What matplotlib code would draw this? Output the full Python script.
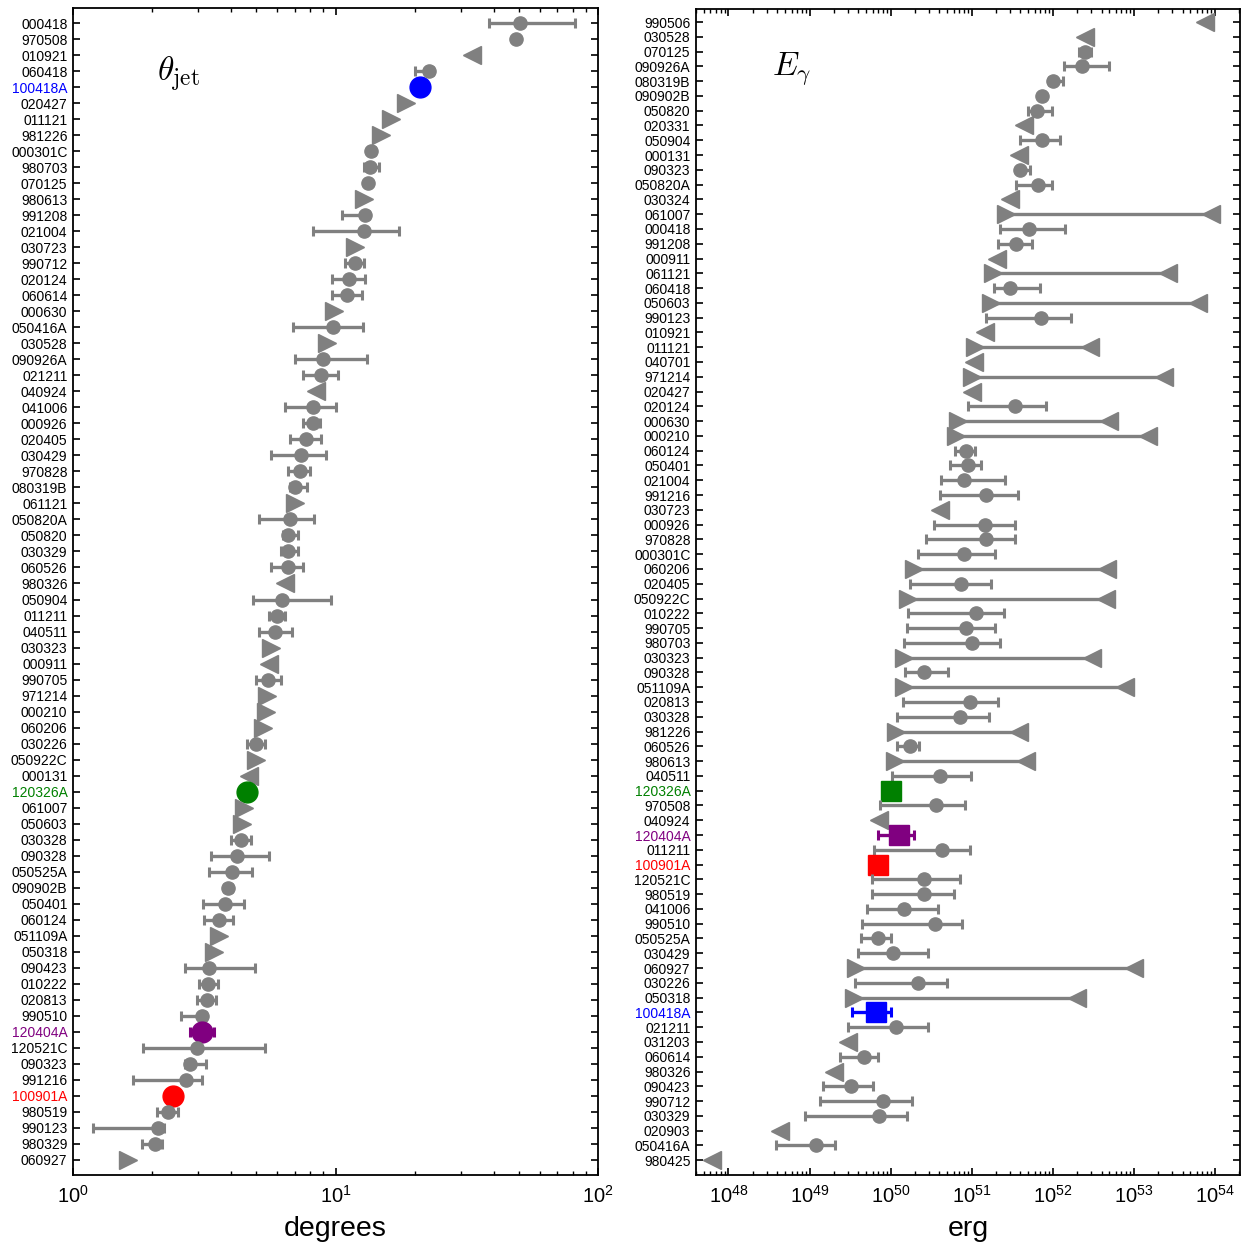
import numpy as np
import matplotlib
matplotlib.use("Agg")
import matplotlib.pyplot as plt
from matplotlib.ticker import LogLocator, NullFormatter

plt.rcParams['font.family'] = ['Liberation Sans', 'DejaVu Sans']
plt.rcParams['mathtext.fontset'] = 'custom'
plt.rcParams['mathtext.rm'] = 'Liberation Sans'
plt.rcParams['mathtext.it'] = 'Liberation Sans:italic'
plt.rcParams['mathtext.bf'] = 'Liberation Sans:bold'

GRAY = '#808080'

# ---- left panel: jet opening angle (degrees) ----
theta_labels = ['000418', '970508', '010921', '060418', '100418A', '020427', '011121', '981226',
                '000301C', '980703', '070125', '980613', '991208', '021004', '030723', '990712',
                '020124', '060614', '000630', '050416A', '030528', '090926A', '021211', '040924',
                '041006', '000926', '020405', '030429', '970828', '080319B', '061121', '050820A',
                '050820', '030329', '060526', '980326', '050904', '011211', '040511', '030323',
                '000911', '990705', '971214', '000210', '060206', '030226', '050922C', '000131',
                '120326A', '061007', '050603', '030328', '090328', '050525A', '090902B', '050401',
                '060124', '051109A', '050318', '090423', '010222', '020813', '990510', '120404A',
                '120521C', '090323', '991216', '100901A', '980519', '990123', '980329', '060927']
theta_kind = ['o', 'o', '<', 'o', 'o', '>', '>', '>',
              'o', 'o', 'o', '>', 'o', 'o', '>', 'o',
              'o', 'o', '>', 'o', '>', 'o', 'o', '<',
              'o', 'o', 'o', 'o', 'o', 'o', '>', 'o',
              'o', 'o', 'o', '<', 'o', 'o', 'o', '>',
              '<', 'o', '>', '>', '>', 'o', '>', '<',
              'o', '>', '>', 'o', 'o', 'o', 'o', 'o',
              'o', '>', '>', 'o', 'o', 'o', 'o', 'o',
              'o', 'o', 'o', 'o', 'o', 'o', 'o', '>']
theta_val = [50.4, 48.8, 33.2, 22.7, 21.0, 18.6, 16.3, 14.9,
             13.7, 13.5, 13.3, 12.8, 12.9, 12.8, 11.9, 11.9,
             11.3, 11.1, 9.9, 9.8, 9.3, 9.0, 8.8, 8.4,
             8.2, 8.2, 7.7, 7.4, 7.3, 7.0, 7.0, 6.7,
             6.6, 6.6, 6.6, 6.4, 6.25, 6.0, 5.9, 5.7,
             5.6, 5.55, 5.46, 5.42, 5.3, 4.99, 4.97, 4.7,
             4.6, 4.47, 4.4, 4.37, 4.2, 4.03, 3.9, 3.81,
             3.6, 3.6, 3.43, 3.31, 3.28, 3.24, 3.11, 3.09,
             2.98, 2.79, 2.70, 2.40, 2.30, 2.10, 2.06, 1.62]
theta_lo = [38.3, None, None, 20.0, None, None, None, None,
            13.3, 12.8, 13.0, None, 10.6, 8.2, None, 10.9,
            9.7, 9.7, None, 6.9, None, 7.0, 7.5, None,
            6.4, 7.5, 6.7, 5.7, 6.6, 6.7, None, 5.1,
            6.3, 6.2, 5.7, None, 4.85, 5.6, 5.1, None,
            None, 4.99, None, None, None, 4.6, None, None,
            None, None, None, 4.0, 3.36, 3.3, 3.75, 3.13,
            3.16, None, None, 2.67, 3.03, 2.96, 2.59, 2.79,
            1.85, 2.67, 1.69, None, 2.09, 1.19, 1.83, None]
theta_hi = [81.6, None, None, 23.5, None, None, None, None,
            14.1, 14.7, 13.6, None, 13.4, 17.5, None, 12.8,
            13.0, 12.6, None, 12.7, None, 13.2, 10.2, None,
            10.0, 8.7, 8.8, 9.2, 8.0, 7.8, None, 8.3,
            7.2, 7.2, 7.5, None, 9.65, 6.4, 6.8, None,
            None, 6.2, None, None, None, 5.4, None, None,
            None, None, None, 4.77, 5.57, 4.8, 4.05, 4.5,
            4.07, None, None, 4.95, 3.56, 3.52, 3.2, 3.44,
            5.37, 3.22, 3.11, None, 2.52, 2.22, 2.18, None]

# ---- right panel: beaming-corrected energy (log10 erg) ----
egam_labels = ['990506', '030528', '070125', '090926A', '080319B', '090902B', '050820', '020331',
               '050904', '000131', '090323', '050820A', '030324', '061007', '000418', '991208',
               '000911', '061121', '060418', '050603', '990123', '010921', '011121', '040701',
               '971214', '020427', '020124', '000630', '000210', '060124', '050401', '021004',
               '991216', '030723', '000926', '970828', '000301C', '060206', '020405', '050922C',
               '010222', '990705', '980703', '030323', '090328', '051109A', '020813', '030328',
               '981226', '060526', '980613', '040511', '120326A', '970508', '040924', '120404A',
               '011211', '100901A', '120521C', '980519', '041006', '990510', '050525A', '030429',
               '060927', '030226', '050318', '100418A', '021211', '031203', '060614', '980326',
               '090423', '990712', '030329', '020903', '050416A', '980425']
# 'o' measured, '<' upper limit, 'r' range between a lower and an upper limit
egam_kind = ['<', '<', 'o', 'o', 'o', 'o', 'o', '<',
             'o', '<', 'o', 'o', '<', 'r', 'o', 'o',
             '<', 'r', 'o', 'r', 'o', '<', 'r', '<',
             'r', '<', 'o', 'r', 'r', 'o', 'o', 'o',
             'o', '<', 'o', 'o', 'o', 'r', 'o', 'r',
             'o', 'o', 'o', 'r', 'o', 'r', 'o', 'o',
             'r', 'o', 'r', 'o', 'o', 'o', '<', 'o',
             'o', 'o', 'o', 'o', 'o', 'o', 'o', 'o',
             'r', 'o', 'r', 'o', 'o', '<', 'o', '<',
             'o', 'o', 'o', '<', 'o', '<']
egam_val = [53.88, 52.40, 52.40, 52.36, 52.00, 51.87, 51.81, 51.65,
            51.87, 51.59, 51.60, 51.82, 51.47, 51.42, 51.71, 51.55,
            51.31, 51.26, 51.47, 51.24, 51.86, 51.17, 51.04, 51.03,
            51.01, 51.01, 51.54, 50.83, 50.81, 50.93, 50.96, 50.91,
            51.18, 50.61, 51.16, 51.18, 50.90, 50.29, 50.87, 50.22,
            51.05, 50.93, 51.01, 50.17, 50.41, 50.16, 50.98, 50.86,
            50.07, 50.24, 50.05, 50.61, 50.00, 50.56, 49.86, 50.11,
            50.63, 49.84, 50.41, 50.41, 50.17, 50.55, 49.85, 50.03,
            49.57, 50.34, 49.55, 49.82, 50.07, 49.48, 49.67, 49.30,
            49.51, 49.91, 49.86, 48.63, 49.08, 47.80]
egam_lo = [None, None, 52.33, 52.14, 51.95, None, 51.69, None,
           51.60, None, 51.58, 51.55, None, None, 51.35, 51.33,
           None, None, 51.27, None, 51.18, None, None, None,
           None, None, 50.95, None, None, 50.80, 50.73, 50.62,
           50.61, None, 50.54, 50.44, 50.34, None, 50.24, None,
           50.22, 50.20, 50.17, None, 50.18, None, 50.15, 50.08,
           None, 50.08, None, 50.02, None, 49.87, None, 49.84,
           49.80, None, 49.77, 49.77, 49.71, 49.65, 49.63, 49.60,
           None, 49.56, None, 49.52, 49.47, None, 49.38, None,
           49.17, 49.13, 48.95, None, 48.59, None]
egam_hi = [None, None, 52.47, 52.70, 52.13, None, 51.99, None,
           52.09, None, 51.72, 51.99, None, 53.95, 52.15, 51.74,
           None, 53.42, 51.84, 53.79, 52.23, None, 52.46, None,
           53.37, None, 51.92, 52.69, 53.17, 51.04, 51.11, 51.41,
           51.57, None, 51.54, 51.54, 51.29, 52.67, 51.24, 52.66,
           51.40, 51.29, 51.35, 52.49, 50.71, 52.89, 51.32, 51.21,
           51.58, 50.35, 51.67, 50.99, None, 50.92, None, 50.29,
           50.98, None, 50.86, 50.78, 50.58, 50.88, 50.01, 50.46,
           53.00, 50.70, 52.30, 50.01, 50.46, None, 49.85, None,
           49.78, 50.26, 50.20, None, 49.31, None]

highlight = {'100418A': '#0000ff', '120326A': '#008000',
             '120404A': '#800080', '100901A': '#ff0000'}


def style_axes(ax, labels):
    n = len(labels)
    ax.set_yticks(range(n))
    ax.set_yticklabels(labels, fontsize=10)
    for tl, lab in zip(ax.get_yticklabels(), labels):
        tl.set_color(highlight.get(lab, 'black'))
    ax.tick_params(which='both', direction='in', top=True, right=True)
    ax.tick_params(axis='y', which='major', length=5, width=1.2, pad=4)
    ax.tick_params(axis='x', which='major', length=5, width=1.2, pad=7, labelsize=14.5)
    ax.tick_params(axis='x', which='minor', length=3, width=1.0)
    ax.tick_params(axis='y', which='minor', left=False, right=False)
    ax.xaxis.set_minor_locator(LogLocator(base=10, subs=np.arange(2, 10), numticks=100))
    ax.xaxis.set_minor_formatter(NullFormatter())
    for sp in ax.spines.values():
        sp.set_linewidth(1.3)


def errbar(ax, x, y, lo, hi, color, ms, marker='o'):
    if lo is None:
        ax.plot([x], [y], marker=marker, color=color, ms=ms, ls='none', zorder=3)
    else:
        ax.errorbar([x], [y], xerr=[[x - lo], [hi - x]], fmt=marker, color=color, ms=ms,
                    ecolor=color, elinewidth=2.4, capsize=3.3, capthick=2.2, zorder=3)


fig = plt.figure(figsize=(12.47, 12.43), dpi=100)
ax1 = fig.add_axes([73 / 1247, 1 - 1175 / 1243, (598 - 73) / 1247, (1175 - 8) / 1243])
ax2 = fig.add_axes([696 / 1247, 1 - 1175 / 1243, (1240 - 696) / 1247, (1175 - 9) / 1243])

# left panel
for i, lab in enumerate(theta_labels):
    k = theta_kind[i]
    if lab in highlight:
        errbar(ax1, theta_val[i], i, theta_lo[i], theta_hi[i], highlight[lab], 15)
    elif k == 'o':
        errbar(ax1, theta_val[i], i, theta_lo[i], theta_hi[i], GRAY, 9.5)
    else:
        ax1.plot([theta_val[i]], [i], marker=k, color=GRAY, ms=13.5, ls='none', zorder=3)

ax1.set_xscale('log')
ax1.set_xlim(1, 100)
ax1.set_ylim(len(theta_labels) - 1 + 0.94, -0.94)
style_axes(ax1, theta_labels)
ax1.set_xlabel('degrees', fontsize=20.5, labelpad=7)
ax1.text(0.16, 0.943, r'$\theta_{\rm jet}$', transform=ax1.transAxes, fontsize=24,
         math_fontfamily='cm', va='center', ha='left')

# right panel
for i, lab in enumerate(egam_labels):
    k = egam_kind[i]
    v = 10 ** egam_val[i]
    lo = None if egam_lo[i] is None else 10 ** egam_lo[i]
    hi = None if egam_hi[i] is None else 10 ** egam_hi[i]
    if lab in highlight:
        errbar(ax2, v, i, lo, hi, highlight[lab], 14.5, marker='s')
    elif k == 'o':
        errbar(ax2, v, i, lo, hi, GRAY, 9.5)
    elif k == 'r':
        ax2.plot([v, hi], [i, i], color=GRAY, lw=2.4, zorder=2)
        ax2.plot([v], [i], marker='>', color=GRAY, ms=13, ls='none', zorder=3)
        ax2.plot([hi], [i], marker='<', color=GRAY, ms=13, ls='none', zorder=3)
    else:
        ax2.plot([v], [i], marker='<', color=GRAY, ms=13, ls='none', zorder=3)

ax2.set_xscale('log')
ax2.set_xlim(10 ** 47.60, 10 ** 54.31)
ax2.xaxis.set_major_locator(LogLocator(base=10, numticks=20))
ax2.set_ylim(len(egam_labels) - 1 + 1.0, -0.88)
style_axes(ax2, egam_labels)
ax2.set_xlabel('erg', fontsize=20.5, labelpad=7)
ax2.text(0.14, 0.948, r'$E_\gamma$', transform=ax2.transAxes, fontsize=24,
         math_fontfamily='cm', va='center', ha='left')

fig.savefig('out.png', dpi=100)
